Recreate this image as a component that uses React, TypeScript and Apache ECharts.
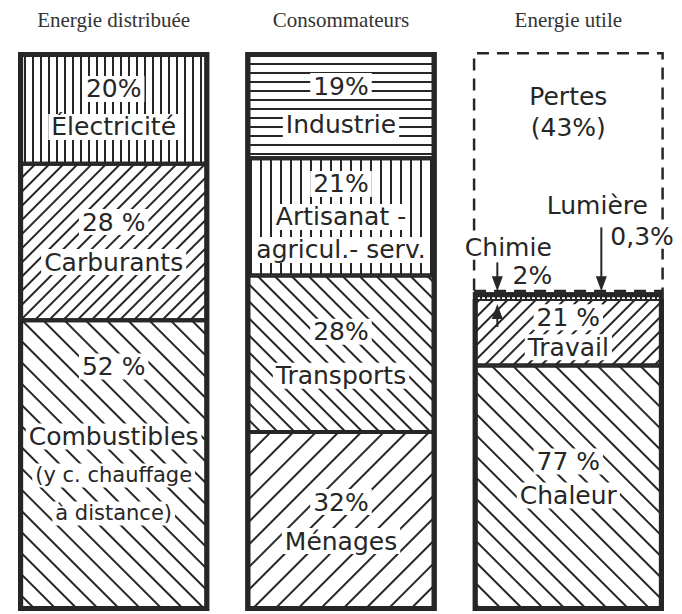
import React, { useEffect, useRef } from 'react';
import * as echarts from 'echarts';

// ---------- data ----------
const categories = ['Energie distribuée', 'Consommateurs', 'Energie utile'];

// Bar 1 — energie distribuée (bottom to top)
const distribNames = ['Combustibles', 'Carburants', 'Électricité'];
const distribValues = [52, 28, 20];
const distribPct = ['52 %', '28 %', '20%'];
const distribNotes = ['(y c. chauffage', 'à distance)'];

// Bar 2 — consommateurs (bottom to top)
const consoNames = ['Ménages', 'Transports', 'Artisanat -\nagricul.- serv.', 'Industrie'];
const consoValues = [32, 28, 21, 19];
const consoPct = ['32%', '28%', '21%', '19%'];

// Bar 3 — energie utile, share of the total (bottom to top)
const utileNames = ['Chaleur', 'Travail', 'Chimie', 'Lumière', 'Pertes'];
const utileValues = [43.9, 11.9, 1.0, 0.2, 43.0];
const utilePct = ['77 %', '21 %', '2%', '0,3%', '43%'];

// ---------- styles ----------
const INK = '#262626';
const FONT = '"DejaVu Sans", sans-serif';
const SERIF = '"Liberation Serif", "Times New Roman", serif';

type Seg = {
  hatch: string;
  period: number;
  w?: number;
  lh?: number;
  pos?: any;
  label?: string;
  bw?: number;
};

const distribStyle: Seg[] = [
  { hatch: '\\', period: 14, lh: 40, pos: ['50%', '41%'], label: 'notes' },
  { hatch: '/', period: 9, lh: 40 },
  { hatch: 'v', period: 7, lh: 38 },
];
const consoStyle: Seg[] = [
  { hatch: '/', period: 15, lh: 39 },
  { hatch: '\\', period: 11, lh: 44 },
  { hatch: 'v', period: 9, lh: 33 },
  { hatch: 'h', period: 8, lh: 38 },
];
const utileStyle: Seg[] = [
  { hatch: '\\', period: 14, lh: 34, pos: ['50%', '46%'] },
  { hatch: '/', period: 9, lh: 30 },
  { hatch: 'v', period: 5, w: 2, label: 'none', bw: 0 },
  { hatch: 'solid', period: 0, label: 'none', bw: 0 },
  { hatch: 'none', period: 0, lh: 31, pos: ['50%', '25%'], label: 'pertes' },
];

function makeDecal(s: Seg) {
  const w = s.w ?? 1.5;
  const base: any = { symbol: 'rect', symbolSize: 1, color: INK };
  if (s.hatch === 'v') return { ...base, dashArrayX: [w, s.period - w], dashArrayY: [1, 0] };
  if (s.hatch === 'h') return { ...base, dashArrayX: [1, 0], dashArrayY: [w, s.period - w] };
  if (s.hatch === '/')
    return { ...base, dashArrayX: [1, 0], dashArrayY: [w, s.period - w], rotation: -Math.PI / 4 };
  if (s.hatch === '\\')
    return { ...base, dashArrayX: [1, 0], dashArrayY: [w, s.period - w], rotation: Math.PI / 4 };
  return undefined;
}

function richFor(lh: number, boxed: boolean) {
  const t: any = { fontFamily: FONT, color: INK };
  if (boxed) {
    t.backgroundColor = '#fff';
    t.padding = [1, 3];
  }
  return {
    p: { ...t, fontSize: 25, lineHeight: lh, height: 24 },
    n: { ...t, fontSize: 25, lineHeight: lh, height: 24 },
    g: { fontFamily: FONT, fontSize: 10, lineHeight: 30 },
    s: { ...t, fontSize: 21, lineHeight: 38, height: 22 },
  };
}

function buildSeries(barIdx: number, names: string[], values: number[], pcts: string[], styles: Seg[]) {
  return values.map((v, i) => {
    const st = styles[i];
    const data = categories.map((_, k) => (k === barIdx ? v : '-'));
    let text = '';
    if (st.label === 'notes') {
      text = [`{p|${pcts[i]}}`, '{g| }', `{n|${names[i]}}`, ...distribNotes.map((l) => `{s|${l}}`)].join('\n');
    } else if (st.label === 'pertes') {
      text = [`{n|${names[i]}}`, `{n|(${pcts[i]})}`].join('\n');
    } else if (st.label !== 'none') {
      text = [`{p|${pcts[i]}}`, ...names[i].split('\n').map((l) => `{n|${l}}`)].join('\n');
    }
    const fill = st.hatch === 'solid' ? INK : st.hatch === 'none' ? 'rgba(255,255,255,0)' : '#fff';
    const itemStyle: any = {
      color: fill,
      borderColor: INK,
      borderWidth: st.bw ?? 2,
    };
    const dec = makeDecal(st);
    if (dec) itemStyle.decal = dec;
    if (st.hatch === 'none') {
      itemStyle.borderType = [12, 8];
      itemStyle.borderWidth = 2.5;
    }
    return {
      type: 'bar',
      name: names[i],
      stack: 'total',
      barWidth: 191,
      data,
      silent: true,
      itemStyle,
      label: {
        show: st.label !== 'none',
        position: st.pos ?? 'inside',
        align: 'center',
        verticalAlign: 'middle',
        formatter: text,
        rich: richFor(st.lh ?? 38, st.hatch !== 'none'),
      },
    };
  });
}

const sum = (a: number[]) => a.reduce((s, x) => s + x, 0);

export default function App() {
  const ref = useRef<HTMLDivElement>(null);
  useEffect(() => {
    if (!ref.current) return;
    const chart = echarts.init(ref.current, null, { renderer: 'svg' });
    const usefulTop = sum(utileValues.slice(0, 4));
    const series: any[] = [
      ...buildSeries(0, distribNames, distribValues, distribPct, distribStyle),
      ...buildSeries(1, consoNames, consoValues, consoPct, consoStyle),
      ...buildSeries(2, utileNames, utileValues, utilePct, utileStyle),
      {
        type: 'bar',
        name: 'cadre',
        barWidth: 191,
        barGap: '-100%',
        silent: true,
        z: 5,
        data: [sum(distribValues), sum(consoValues), usefulTop],
        itemStyle: { color: 'rgba(0,0,0,0)', borderColor: INK, borderWidth: 5 },
        label: { show: false },
      },
    ];
    chart.setOption({
      animation: false,
      grid: { left: -12, right: -13, top: 52, bottom: 3, containLabel: false },
      xAxis: {
        type: 'category',
        data: categories,
        position: 'top',
        axisLine: { show: false },
        axisTick: { show: false },
        splitLine: { show: false },
        axisLabel: { fontFamily: SERIF, fontSize: 21, color: '#333', margin: 22 },
      },
      yAxis: { type: 'value', min: 0, max: 100, show: false },
      series,
    });

    const [x3, yTop] = chart.convertToPixel({ gridIndex: 0 }, [2, usefulTop]) as number[];
    const yChim = (chart.convertToPixel({ gridIndex: 0 }, [2, utileValues[0] + utileValues[1]]) as number[])[1];

    const arrow = (x: number, yFrom: number, yTip: number) => {
      const d = Math.sign(yTip - yFrom);
      return [
        { type: 'line', z: 20, shape: { x1: x, y1: yFrom, x2: x, y2: yTip - d * 10 }, style: { stroke: INK, lineWidth: 2 } },
        {
          type: 'polygon',
          z: 20,
          shape: { points: [[x - 5.5, yTip - d * 15], [x + 5.5, yTip - d * 15], [x, yTip]] },
          style: { fill: INK },
        },
      ];
    };
    const txt = (text: string, x: number, y: number, align: string) => ({
      type: 'text',
      z: 20,
      style: {
        text,
        x,
        y,
        font: `25px ${FONT}`,
        fill: INK,
        align,
        textAlign: align,
        verticalAlign: 'middle',
        textVerticalAlign: 'middle',
        backgroundColor: '#fff',
        padding: [0, 2],
      },
    });
    chart.setOption({
      graphic: [
        ...arrow(x3 + 33, yTop - 65, yTop - 1),
        ...arrow(x3 - 71, yTop - 30, yTop - 1),
        ...arrow(x3 - 71, yChim + 28, yChim + 5),
        txt(utileNames[3], x3 + 29, yTop - 87, 'center'),
        txt(utilePct[3], x3 + 40, yTop - 56, 'left'),
        txt(utileNames[2], x3 - 60, yTop - 45, 'center'),
        txt(utilePct[2], x3 - 36, yTop - 17, 'center'),
      ],
    });
    return () => chart.dispose();
  }, []);
  return (
    <div
      ref={ref}
      style={{ position: 'absolute', left: 0, top: 0, width: 682, height: 614, background: '#fff' }}
    />
  );
}
